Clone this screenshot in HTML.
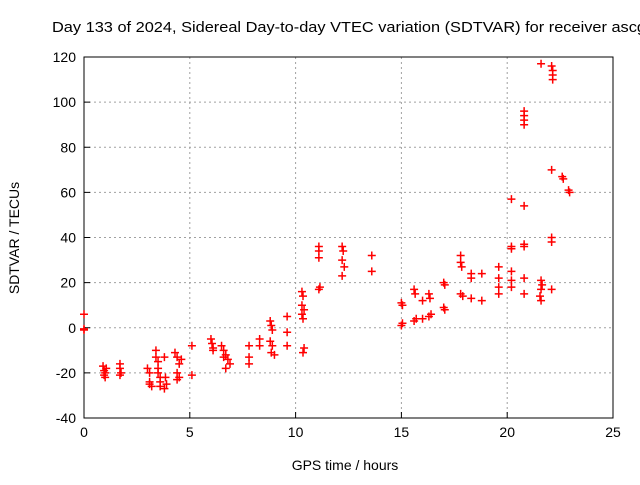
<!DOCTYPE html>
<html><head><meta charset="utf-8"><style>
body{margin:0;background:#fff;width:640px;height:480px;overflow:hidden}
svg{font-family:"Liberation Sans",sans-serif}
</style></head><body>
<svg id="chart" width="640" height="480" xmlns="http://www.w3.org/2000/svg">
<text x="52" y="32" font-size="15" textLength="594" lengthAdjust="spacingAndGlyphs" fill="#000">Day 133 of 2024, Sidereal Day-to-day VTEC variation (SDTVAR) for receiver ascg</text>
<g id="grid"></g><g id="axes"></g><g id="pts"></g>
<text x="345" y="470" font-size="14" text-anchor="middle">GPS time / hours</text>
<text transform="translate(19,238) rotate(-90)" font-size="14" text-anchor="middle">SDTVAR / TECUs</text>
</svg>
<script>
const xTicks=[0,5,10,15,20,25];
const yTicks=[-40,-20,0,20,40,60,80,100,120];
const hours=[0,0,0, .9,.95,1,1,.95,1.05, 1.7,1.7,1.75,1.7, 3,3.1,3.1,3.2,3.1, 3.4,3.4,3.5,3.5,3.5,3.6,3.6,3.6, 3.8,3.85,3.9,3.8, 4.3,4.4,4.5,4.6,4.4,4.5,4.4, 5.1,5.1, 6,6.05,6.1,6.1, 6.5,6.6,6.7,6.8,6.9,6.7,6.6, 7.8,7.8,7.8, 8.3,8.3, 8.8,8.85,8.9,8.8,8.9,8.85,9, 9.6,9.6,9.6, 10.3,10.35,10.3,10.4,10.3,10.35,10.4,10.35, 11.1,11.1,11.1,11.1,11.15, 12.2,12.25,12.2,12.3,12.2, 13.6,13.6, 15,15.05,15,15.05, 15.6,15.65,15.6,15.7, 16,16, 16.3,16.35,16.3,16.4, 17,17.05,17,17.05, 17.8,17.8,17.85,17.8,17.9, 18.3,18.3,18.3, 18.8,18.8, 19.6,19.6,19.6,19.6, 20.2,20.2,20.2,20.2,20.2,20.2, 20.8,20.8,20.8,20.8,20.8,20.8,20.8,20.8,20.8, 21.6,21.6,21.65,21.6,21.55,21.6, 22.1,22.15,22.15,22.15,22.1,22.1,22.1,22.1, 22.6,22.65, 22.9,22.95];
const values=[6,-1,-0.5, -17,-19,-20,-22,-21,-18, -16,-18,-20,-21, -18,-20,-24,-26,-25, -10,-13,-15,-18,-20,-22,-24,-26, -13,-22,-25,-27, -11,-13,-16,-14,-20,-22,-23, -8,-21, -5,-7,-9,-10, -8,-10,-12,-14,-16,-18,-13, -8,-13,-16, -5,-8, 3,1,-1,-6,-8,-11,-12, 5,-2,-8, 16,14,10,8,6,4,-9,-11, 36,34,31,17,18, 36,34,30,27,23, 32,25, 11,10,1,2, 17,15,3,4, 12,4, 15,13,5,6, 20,19,9,8, 32,29,27,15,14, 24,22,13, 24,12, 27,22,18,15, 57,36,35,25,21,18, 96,94,92,90,54,37,36,22,15, 117,21,19,17,14,12, 116,114,112,110,70,40,38,17, 67,66, 61,60];
const L=84,R=613,T=57,B=418;
const xs=h=>L+(h-0)/25*(R-L);
const ys=v=>B-(v+40)/160*(B-T);
const NS="http://www.w3.org/2000/svg";
function mk(p,t,a){const e=document.createElementNS(NS,t);for(const k in a)e.setAttribute(k,a[k]);p.appendChild(e);return e;}
const grid=document.getElementById('grid'),axes=document.getElementById('axes'),pts=document.getElementById('pts');
xTicks.forEach(t=>{const x=xs(t);
 if(t>0&&t<25){const g=mk(grid,'line',{x1:x,x2:x,y1:T,y2:B,stroke:'#a0a0a0','stroke-dasharray':'2,3'});
 
 }
 const tk=mk(axes,'line',{x1:x,x2:x,y1:B,y2:B-6,stroke:'#000'});
 
 
 const tx=mk(axes,'text',{x:x,y:B+19,'font-size':14,'text-anchor':'middle'});tx.textContent=t;
 
 });
yTicks.forEach(t=>{const y=ys(t);
 if(t>-40&&t<120){const g=mk(grid,'line',{x1:L,x2:R,y1:y,y2:y,stroke:'#a0a0a0','stroke-dasharray':'2,3'});
 
 }
 const tk=mk(axes,'line',{x1:L,x2:L+6,y1:y,y2:y,stroke:'#000'});
 
 
 const tx=mk(axes,'text',{x:L-8,y:y+5,'font-size':14,'text-anchor':'end'});tx.textContent=t;
 
 });
const box=mk(axes,'rect',{x:L,y:T,width:R-L,height:B-T,fill:'none',stroke:'#000'});


hours.forEach((h,i)=>{const x=xs(h),y=ys(values[i]);
 const p=mk(pts,'path',{d:`M${x-4} ${y}H${x+4}M${x} ${y-4}V${y+4}`,stroke:'#ff0000','stroke-width':1.5,fill:'none'});
 
 });
</script>
</body></html>
